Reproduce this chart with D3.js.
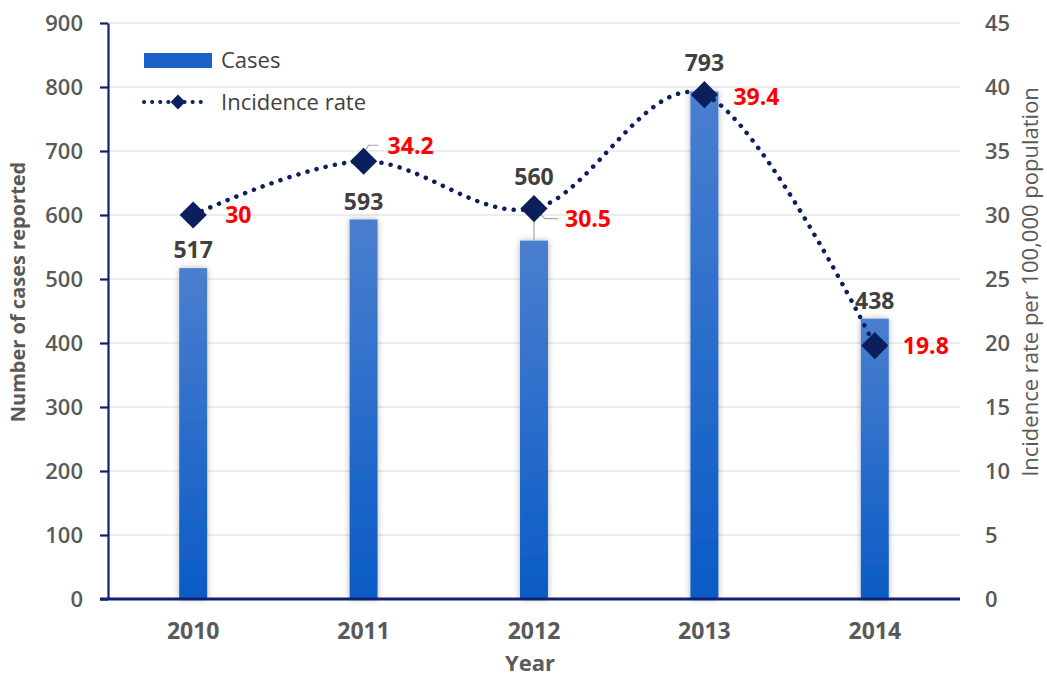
<!DOCTYPE html>
<html>
<head>
<meta charset="utf-8">
<script src="https://cdn.jsdelivr.net/npm/d3@7"></script>
<style>
  html, body { margin: 0; padding: 0; background: #fff; }
  svg { display: block; font-family: "Open Sans", "Liberation Sans", sans-serif; }
</style>
</head>
<body>
<svg id="chart" width="1047" height="680"></svg>
<script>
// Reported cases and incidence rate by year
const years = ["2010", "2011", "2012", "2013", "2014"];
const cases = [517, 593, 560, 793, 438];
const rates = [30, 34.2, 30.5, 39.4, 19.8];
const caseTicks = [0, 100, 200, 300, 400, 500, 600, 700, 800, 900];
const rateTicks = [0, 5, 10, 15, 20, 25, 30, 35, 40, 45];

const svg = d3.select("#chart");
const plot = { left: 108, right: 960, top: 23, bottom: 599 };

const x = d3.scaleBand().domain(years)
  .range([plot.left, plot.right])
  .paddingInner(0.836).paddingOuter(0.418);
const yL = d3.scaleLinear().domain([0, 900]).range([plot.bottom, plot.top]);
const yR = d3.scaleLinear().domain([0, 45]).range([plot.bottom, plot.top]);
const cx = d => x(d) + x.bandwidth() / 2;

const navy = "#0f2170";
const grey = "#595959";

// defs: bar gradient and soft shadow
const defs = svg.append("defs");
const grad = defs.append("linearGradient").attr("id", "barGrad")
  .attr("x1", 0).attr("y1", 0).attr("x2", 0).attr("y2", 1);
grad.append("stop").attr("offset", "0%").attr("stop-color", "#4a7fcf");
grad.append("stop").attr("offset", "100%").attr("stop-color", "#0a5bc6");
const shadow = defs.append("filter").attr("id", "barShadow")
  .attr("x", "-60%").attr("y", "-10%").attr("width", "220%").attr("height", "120%");
shadow.append("feDropShadow").attr("dx", 0).attr("dy", 0)
  .attr("stdDeviation", 3).attr("flood-color", "#000").attr("flood-opacity", 0.3);

// gridlines
svg.append("g").selectAll("line").data(caseTicks.filter(t => t > 0)).join("line")
  .attr("x1", plot.left).attr("x2", plot.right)
  .attr("y1", d => yL(d)).attr("y2", d => yL(d))
  .attr("stroke", "#d9d9d9").attr("stroke-width", 1.2);

// bars
svg.append("g").selectAll("rect").data(years).join("rect")
  .attr("x", d => x(d)).attr("width", x.bandwidth())
  .attr("y", (d, i) => yL(cases[i]))
  .attr("height", (d, i) => yL(0) - yL(cases[i]))
  .attr("fill", "url(#barGrad)")
  .attr("filter", "url(#barShadow)");

// left axis
const axL = svg.append("g").attr("transform", `translate(${plot.left},0)`)
  .call(d3.axisLeft(yL).tickValues(caseTicks).tickSize(8).tickSizeOuter(0).tickPadding(17));
axL.select(".domain").attr("stroke", navy).attr("stroke-width", 2.2);
axL.selectAll(".tick line").attr("stroke", navy).attr("stroke-width", 2.2);
axL.selectAll(".tick text").attr("fill", grey).attr("font-size", 22)
  .attr("font-weight", 600).attr("font-family", "Open Sans").attr("dy", "0.36em");

// right axis (labels only)
const axR = svg.append("g").attr("transform", `translate(${plot.right},0)`)
  .call(d3.axisRight(yR).tickValues(rateTicks).tickSize(0).tickPadding(25));
axR.select(".domain").remove();
axR.selectAll(".tick text").attr("fill", grey).attr("font-size", 22)
  .attr("font-weight", 600).attr("font-family", "Open Sans").attr("dy", "0.36em");

// bottom axis
const axB = svg.append("g").attr("transform", `translate(0,${plot.bottom})`)
  .call(d3.axisBottom(x).tickSize(0).tickPadding(24));
axB.select(".domain").attr("d", `M${plot.left - 8},0H${plot.right}`)
  .attr("stroke", navy).attr("stroke-width", 2.8);
axB.selectAll(".tick text").attr("fill", grey).attr("font-size", 23)
  .attr("font-weight", 700).attr("font-family", "Open Sans").attr("dy", "0.71em");

// axis titles
svg.append("text").attr("x", 530).attr("y", 671).attr("text-anchor", "middle")
  .attr("fill", grey).attr("font-size", 22).attr("font-weight", 700).text("Year");
svg.append("text").attr("transform", "translate(25,292) rotate(-90)")
  .attr("text-anchor", "middle").attr("fill", grey).attr("font-size", 20)
  .attr("font-weight", 700).text("Number of cases reported");
svg.append("text").attr("transform", "translate(1038,282) rotate(-90)")
  .attr("text-anchor", "middle").attr("fill", grey).attr("font-size", 22)
  .text("Incidence rate per 100,000 population");

// incidence rate line
const pts = years.map((d, i) => [cx(d), yR(rates[i])]);
svg.append("path").datum(pts)
  .attr("d", d3.line().curve(d3.curveCardinal.tension(0)))
  .attr("fill", "none").attr("stroke", "#0a1f5c").attr("stroke-width", 4.5)
  .attr("stroke-linecap", "round").attr("stroke-dasharray", "0.1 9.3");

// leader lines for moved labels
const leader = svg.append("g").attr("stroke", "#a6a6a6").attr("stroke-width", 1.2).attr("fill", "none");
leader.append("path").attr("d", `M${pts[1][0]},${pts[1][1] - 8}L${pts[1][0] + 5},${pts[1][1] - 16}H${pts[1][0] + 15}`);
leader.append("path").attr("d", `M${pts[2][0]},${pts[2][1]}L${pts[2][0] + 11},${pts[2][1] + 10}H${pts[2][0] + 24}`);
leader.append("path").attr("d", `M${pts[2][0]},${pts[2][1]}V${yL(cases[2])}`);

// diamond markers
svg.append("g").selectAll("path").data(pts).join("path")
  .attr("d", d3.symbol().type(d3.symbolSquare).size(370))
  .attr("transform", d => `translate(${d[0]},${d[1]}) rotate(45)`)
  .attr("fill", "#0a1f5c");

// case value labels (nudged upward where markers overlap)
const caseLabelLift = [10, 9, 56, 20, 10];
svg.append("g").selectAll("text").data(years).join("text")
  .attr("x", d => cx(d))
  .attr("y", (d, i) => yL(cases[i]) - caseLabelLift[i])
  .attr("text-anchor", "middle").attr("fill", "#404040")
  .attr("font-size", 23).attr("font-weight", 700)
  .text((d, i) => cases[i]);

// rate value labels
const rateLabelShift = [[32, 0], [24, -16], [31, 10], [29, 2], [28, 0]];
svg.append("g").selectAll("text").data(years).join("text")
  .attr("x", (d, i) => pts[i][0] + rateLabelShift[i][0])
  .attr("y", (d, i) => pts[i][1] + rateLabelShift[i][1])
  .attr("dy", "0.36em")
  .attr("fill", "#ff0000").attr("font-size", 23).attr("font-weight", 700)
  .text((d, i) => rates[i]);

// legend
const lg = svg.append("g");
lg.append("rect").attr("x", 144).attr("y", 53).attr("width", 68).attr("height", 15)
  .attr("fill", "#1862c8");
lg.append("text").attr("x", 221).attr("y", 68).attr("fill", "#404040")
  .attr("font-size", 22).text("Cases");
lg.append("line").attr("x1", 144).attr("x2", 208).attr("y1", 102).attr("y2", 102)
  .attr("stroke", "#0a1f5c").attr("stroke-width", 4).attr("stroke-linecap", "round")
  .attr("stroke-dasharray", "0.1 8");
lg.append("path").attr("transform", "translate(178,102) rotate(45)")
  .attr("d", d3.symbol().type(d3.symbolSquare).size(110)).attr("fill", "#0a1f5c");
lg.append("text").attr("x", 221).attr("y", 110).attr("fill", "#404040")
  .attr("font-size", 22).text("Incidence rate");
</script>
</body>
</html>
